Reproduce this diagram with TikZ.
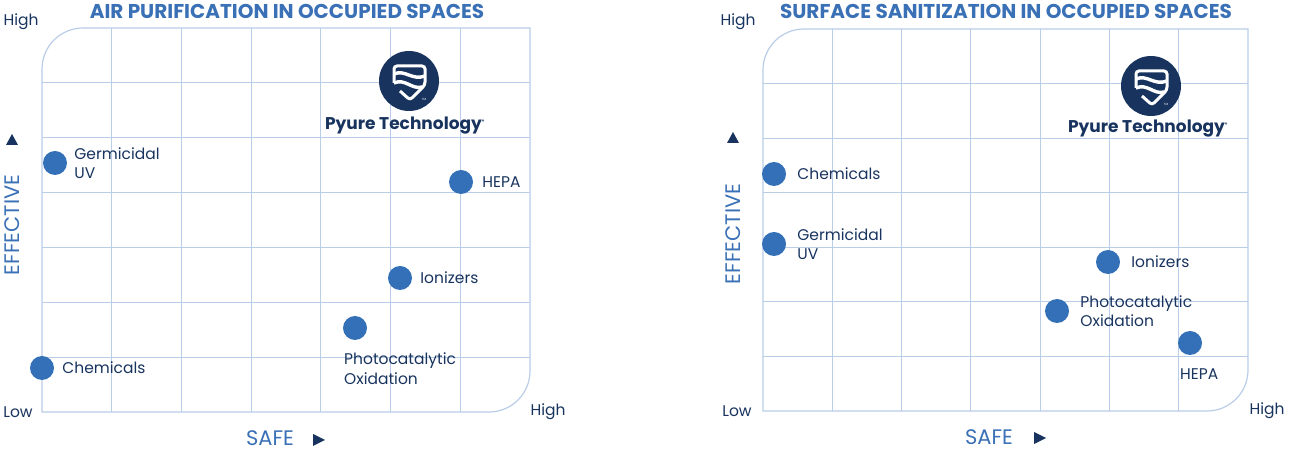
\documentclass[tikz,border=0pt]{standalone}
\usepackage{fontspec}
\setmainfont{Poppins}
\usetikzlibrary{positioning}

\definecolor{gridblue}{RGB}{185,205,232}
\definecolor{dotblue}{RGB}{51,112,183}
\definecolor{navy}{RGB}{24,52,94}
\definecolor{titleblue}{RGB}{58,112,181}

\tikzset{
  gridline/.style={gridblue, line width=1.2pt},
  dot/.style={circle, fill=dotblue, minimum size=24pt, inner sep=0pt},
  lbl/.style={text=navy, font=\fontsize{15.5}{19.5}\selectfont, inner sep=0pt, align=left},
  axislbl/.style={text=titleblue, font=\fontsize{21}{23}\selectfont, inner sep=0pt},
  endlbl/.style={text=navy, font=\fontsize{15.5}{17}\selectfont, inner sep=0pt},
  charttitle/.style={text=titleblue, font=\bfseries\fontsize{20}{22}\selectfont, inner sep=0pt},
  brand/.style={text=navy, font=\bfseries\fontsize{17}{19}\selectfont, inner sep=0pt},
  logodisc/.style={circle, fill=navy, minimum size=60pt, inner sep=0pt},
}

% grid with two rounded corners: x0, y0, width, height
\newcommand{\qgrid}[4]{%
  \begin{scope}[shift={(#1,#2)}]
    \foreach \i in {1,...,6} {
      \draw[gridline] ({\i*#3/7},0) -- ({\i*#3/7},#4);
      \draw[gridline] (0,{\i*#4/7}) -- (#3,{\i*#4/7});
    }
    \draw[gridline] (0,0) -- (0,{#4-41}) arc[start angle=180, end angle=90, radius=41pt]
      -- (#3,#4) -- (#3,41) arc[start angle=0, end angle=-90, radius=41pt] -- cycle;
  \end{scope}}

% shield mark inside the logo disc
\newcommand{\shield}[1]{%
  \begin{scope}[shift={(#1)}]
    \draw[white, line width=3pt, rounded corners=3pt]
      (-15,-2) -- (-15,15) -- (16,15) -- (16,-4) -- (1,-19) -- (-9,-10);
    \draw[white, line width=3.4pt] (-15,7) .. controls (-4,12) and (3,0) .. (16,5);
    \draw[white, line width=3.4pt] (-15,-2) .. controls (-4,3) and (3,-9) .. (13,-6);
    \node[white, font=\fontsize{3}{3}\selectfont, inner sep=0pt] at (15,-18) {TM};
  \end{scope}}

\begin{document}
\begin{tikzpicture}[x=1pt, y=1pt]
  \useasboundingbox (0,0) rectangle (1304,452);

  % ---------- Air purification ----------
  \qgrid{42}{40}{488}{384}
  \node[charttitle] (titleA) at (287,441) {AIR PURIFICATION IN OCCUPIED SPACES};

  % axis ends
  \node[endlbl] (highYA) at (21,430) {High};
  \node[endlbl] (lowA) at (18,40) {Low};
  \node[endlbl] (highXA) at (548,40) {High};

  % axis names and arrows
  \node[axislbl] (safeA) at (270,14) {SAFE};
  \fill[navy] (313,18) -- (325,12) -- (313,6) -- cycle;
  \node[axislbl, rotate=90] (effA) at (12,227) {EFFECTIVE};
  \fill[navy] (6,307) -- (12,318) -- (18,307) -- cycle;

  % logo
  \node[logodisc] (logoA) at (409,371) {};
  \shield{409,371}
  \node[brand] (brandA) at (405,326) {Pyure Technology\textsuperscript{\tiny ®}};

  % the methods
  \node[dot] (guvA) at (55,289) {};
  \node[lbl, right=7pt of guvA] (guvAl) {Germicidal\\UV};
  \node[dot] (hepaA) at (461,270) {};
  \node[lbl, right=9pt of hepaA] (hepaAl) {HEPA};
  \node[dot] (ionA) at (400,174) {};
  \node[lbl, right=8pt of ionA] (ionAl) {Ionizers};
  \node[dot] (pcoA) at (355,124) {};
  \node[lbl, anchor=north west] (pcoAl) at (344,99) {Photocatalytic\\Oxidation};
  \node[dot] (chemA) at (42,84) {};
  \node[lbl, right=8pt of chemA] (chemAl) {Chemicals};

  % ---------- Surface sanitization ----------
  \qgrid{763}{41}{485}{382}
  \node[charttitle] (titleB) at (1006,441) {SURFACE SANITIZATION IN OCCUPIED SPACES};

  % axis ends
  \node[endlbl] (highYB) at (738,430) {High};
  \node[endlbl] (lowB) at (737,41) {Low};
  \node[endlbl] (highXB) at (1267,41) {High};

  % axis names and arrows
  \node[axislbl] (safeB) at (989,15) {SAFE};
  \fill[navy] (1034,20) -- (1046,14) -- (1034,8) -- cycle;
  \node[axislbl, rotate=90] (effB) at (733,218) {EFFECTIVE};
  \fill[navy] (727,309) -- (733,320) -- (739,309) -- cycle;

  % logo
  \node[logodisc] (logoB) at (1151,366) {};
  \shield{1151,366}
  \node[brand] (brandB) at (1148,323) {Pyure Technology\textsuperscript{\tiny ®}};

  % the methods
  \node[dot] (chemB) at (774,278) {};
  \node[lbl, right=11pt of chemB] (chemBl) {Chemicals};
  \node[dot] (guvB) at (774,208) {};
  \node[lbl, right=11pt of guvB] (guvBl) {Germicidal\\UV};
  \node[dot] (ionB) at (1108,190) {};
  \node[lbl, right=11pt of ionB] (ionBl) {Ionizers};
  \node[dot] (pcoB) at (1057,141) {};
  \node[lbl, right=11pt of pcoB] (pcoBl) {Photocatalytic\\Oxidation};
  \node[dot] (hepaB) at (1190,109) {};
  \node[lbl, anchor=north west] (hepaBl) at (1180,84) {HEPA};
\end{tikzpicture}
\end{document}
